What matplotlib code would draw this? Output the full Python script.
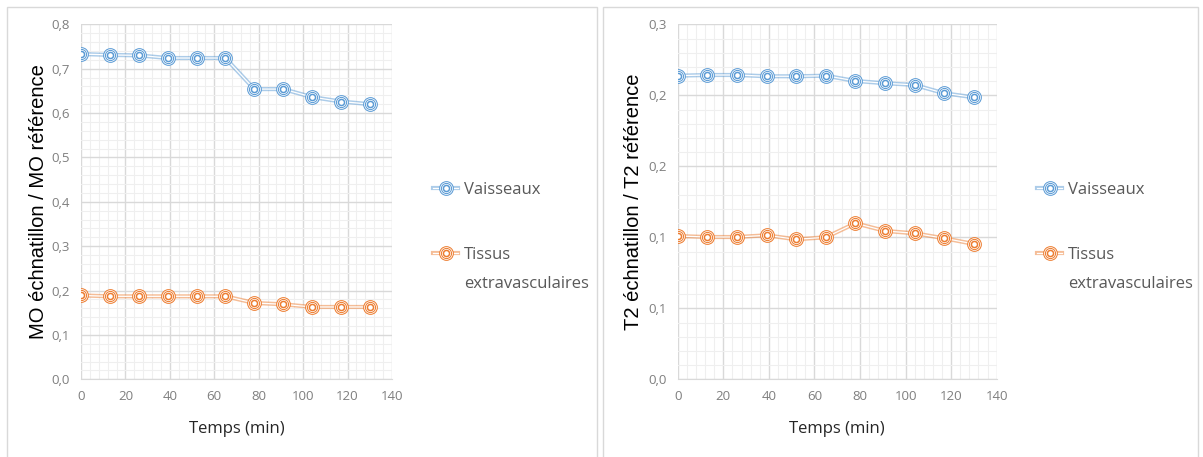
import matplotlib
matplotlib.use("Agg")
import matplotlib.pyplot as plt
import numpy as np
from matplotlib.lines import Line2D
from matplotlib.patches import Rectangle
from matplotlib.ticker import MultipleLocator, FuncFormatter
from matplotlib.legend_handler import HandlerTuple

# ---- data ----
temps = [0, 13, 26, 39, 52, 65, 78, 91, 104, 117, 130]
m0_vaisseaux = [0.733, 0.731, 0.730, 0.724, 0.724, 0.724, 0.654, 0.654, 0.636, 0.626, 0.620]
m0_tissus = [0.189, 0.187, 0.187, 0.187, 0.187, 0.187, 0.172, 0.169, 0.163, 0.163, 0.163]
t2_vaisseaux = [0.2138, 0.2143, 0.2143, 0.2134, 0.2134, 0.2138, 0.2101, 0.2085, 0.2073, 0.2014, 0.1986]
t2_tissus = [0.1009, 0.1002, 0.1002, 0.1014, 0.0986, 0.1000, 0.1099, 0.1045, 0.1028, 0.0993, 0.0953]
series_names = ["Vaisseaux", "Tissus\nextravasculaires"]
x_label = "Temps (min)"
y_label_left = "MO échnatillon / MO référence"
y_label_right = "T2 échnatillon / T2 référence"

BLUE = "#5B9BD5"
ORANGE = "#ED7D31"
TICK_C = "#7F7F7F"
TEXT_C = "#595959"
W, H = 1203, 457

fig = plt.figure(figsize=(W / 100, H / 100), dpi=100)
fig.patch.set_facecolor("white")

# chart frames
for x0, x1 in [(7, 597), (603, 1198)]:
    fig.patches.append(Rectangle((x0 / W, -0.01), (x1 - x0) / W, (H - 7) / H + 0.01,
                                 transform=fig.transFigure, fill=False,
                                 edgecolor="#D9D9D9", lw=1.0))


def fmt(v, pos):
    n = int(np.floor(v * 10 + 0.5 + 1e-9))
    return f"{n // 10},{n % 10}"


MS_OUT, MS_IN = 8.6, 4.4


def marker_lines(color):
    return [
        dict(color=color, lw=3.0, alpha=0.5, zorder=3),
        dict(color="white", lw=0.9, zorder=4),
        dict(ls="none", marker="o", ms=MS_OUT, mfc="white", mec=color, mew=2.0, zorder=5),
        dict(ls="none", marker="o", ms=MS_OUT, mfc="none", mec="white", mew=0.55, zorder=6),
        dict(ls="none", marker="o", ms=MS_IN, mfc="none", mec=color, mew=1.1, zorder=7),
    ]


def draw_series(ax, x, y, color):
    for kw in marker_lines(color):
        ax.plot(x, y, **kw)


def legend_handle(color):
    hs = []
    for kw in marker_lines(color):
        kw = dict(kw)
        kw.pop("zorder", None)
        hs.append(Line2D([], [], **kw))
    return tuple(hs)


def setup(ax, ymax, ymajor, yminor, ylabel, label_x, legend_x):
    ax.set_xlim(0, 140)
    ax.set_ylim(0, ymax)
    ax.xaxis.set_major_locator(MultipleLocator(20))
    ax.xaxis.set_minor_locator(MultipleLocator(4))
    ax.yaxis.set_major_locator(MultipleLocator(ymajor))
    ax.yaxis.set_minor_locator(MultipleLocator(yminor))
    ax.yaxis.set_major_formatter(FuncFormatter(fmt))
    ax.grid(which="major", color="#D9D9D9", lw=1.0, zorder=0)
    ax.grid(which="minor", color="#EFEFEF", lw=0.8, zorder=0)
    ax.set_axisbelow(True)
    for s in ["top", "right", "left"]:
        ax.spines[s].set_visible(False)
    ax.spines["bottom"].set_color("#D9D9D9")
    ax.tick_params(which="both", length=0)
    ax.tick_params(axis="both", labelsize=9.5, labelcolor=TICK_C, pad=8)
    for lab in ax.get_xticklabels() + ax.get_yticklabels():
        lab.set_fontfamily("Open Sans")
    ax.set_xlabel(x_label, fontsize=12, color="#262626", family="Open Sans", labelpad=13)
    ax.set_ylabel(ylabel, fontsize=14.5, color="black", family="Liberation Sans")
    ax.yaxis.set_label_coords(label_x, 0.5)
    leg = ax.legend([legend_handle(BLUE), legend_handle(ORANGE)], series_names,
                    handler_map={tuple: HandlerTuple(ndivide=1, pad=0)},
                    loc="upper left", bbox_to_anchor=(legend_x, 0.635),
                    bbox_transform=fig.transFigure, frameon=False,
                    handlelength=1.5, handletextpad=0.35, labelspacing=2.95,
                    prop={"family": "Open Sans", "size": 12})
    for t in leg.get_texts():
        t.set_color(TEXT_C)
        t.set_linespacing(2.1)
    # align the symbol with the first line of each label
    for col in leg._legend_handle_box.get_children():
        for hp in col.get_children():
            hp.align = "top"


ax1 = fig.add_axes([81 / W, (H - 379.3) / H, 311 / W, 355 / H])
draw_series(ax1, temps, m0_vaisseaux, BLUE)
draw_series(ax1, temps, m0_tissus, ORANGE)
setup(ax1, 0.8, 0.1, 0.02, y_label_left, -0.106, 418 / W)

ax2 = fig.add_axes([677.7 / W, (H - 379.3) / H, 319 / W, 355 / H])
draw_series(ax2, temps, t2_vaisseaux, BLUE)
draw_series(ax2, temps, t2_tissus, ORANGE)
setup(ax2, 0.25, 0.05, 0.01, y_label_right, -0.109, 1022 / W)

fig.savefig("out.png", dpi=100, facecolor="white")
